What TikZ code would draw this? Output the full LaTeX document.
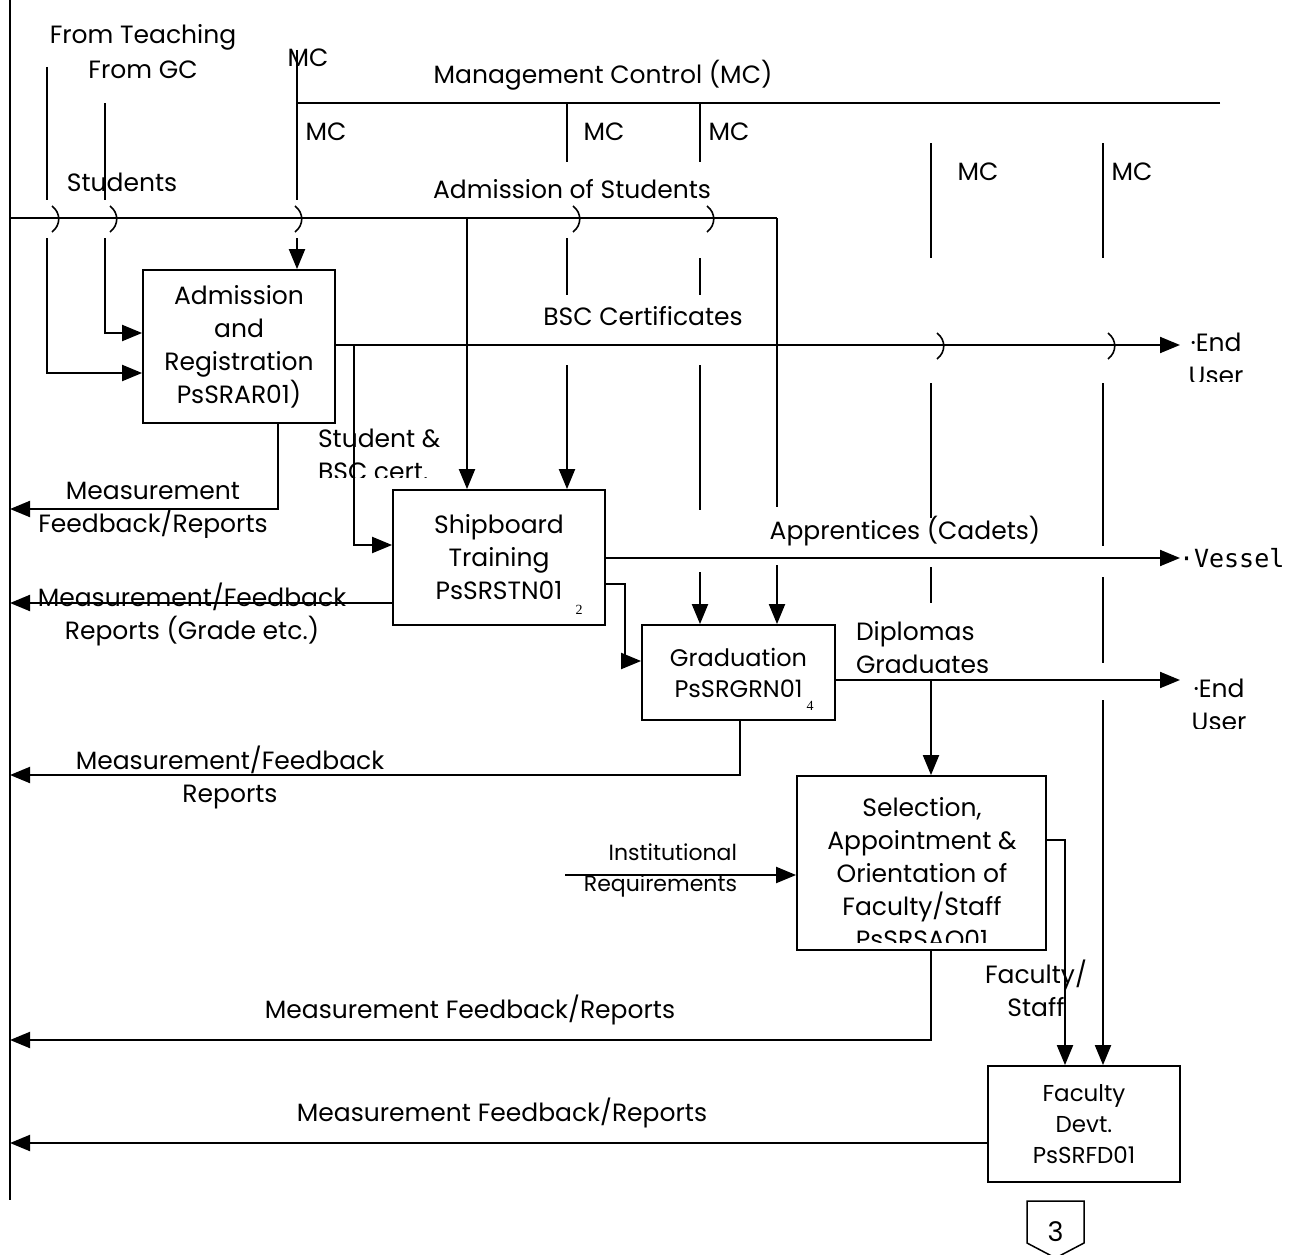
\documentclass[tikz,border=0pt]{standalone}
\usepackage{fontspec}
\setmainfont{Poppins}
\newfontfamily\numfont{Liberation Serif}
\newfontfamily\vesfont{DejaVu Sans Mono}
\usetikzlibrary{arrows.meta,positioning}

\tikzset{
  >={Triangle[length=20pt,width=16pt]},
  box/.style={draw, line width=1.8pt, align=center, inner sep=0pt,
    font=\fontsize{25}{33}\selectfont},
  lbl/.style={align=center, inner sep=0pt, font=\fontsize{25}{33}\selectfont},
  num/.style={inner sep=0pt, font=\numfont\fontsize{14}{14}\selectfont},
  tunnel/.pic={\draw[line width=1.6pt] (0,-13) .. controls (9,-6) and (9,6) .. (0,13);}
}

\begin{document}
\begin{tikzpicture}[x=1pt,y=-1pt,line width=2pt]
  \useasboundingbox (0,0) rectangle (1307,1255);

  % activity boxes
  \node[box, minimum width=192pt, minimum height=153pt] (ar) at (239,346.5) {Admission\\and\\Registration\\PsSRAR01)};
  \node[box, minimum width=212pt, minimum height=135pt] (st) at (499,557.5) {Shipboard\\Training\\PsSRSTN01};
  \node[box, minimum width=193pt, minimum height=95pt, font=\fontsize{24}{31}\selectfont] (gr) at (738.5,672.5) {Graduation\\PsSRGRN01};
  \node[box, minimum width=249pt, minimum height=174pt] (sa) at (921.5,863) {};
  \node[box, minimum width=192pt, minimum height=116pt, font=\fontsize{23}{31}\selectfont] (fd) at (1084,1124) {Faculty\\Devt.\\PsSRFD01};
  \begin{scope}
    \clip (sa.north west) rectangle ([yshift=8pt]sa.south east);
    \node[lbl] (satxt) at (922,873) {Selection,\\Appointment \&\\Orientation of\\Faculty/Staff\\PsSRSAO01};
  \end{scope}
  \node[num] (n2) at (579,610) {2};
  \node[num] (n4) at (810,706) {4};

  % free ends
  \coordinate (top) at (10,0);
  \coordinate (bot) at (10,1200);
  \coordinate (ftin) at (47,67);
  \coordinate (gcin) at (105,103);
  \coordinate (mcin) at (297,50);
  \coordinate (mcr) at (1220,103);
  \coordinate (mca) at (567,103);
  \coordinate (mcb) at (700,103);
  \coordinate (mcc) at (931,143);
  \coordinate (mcd) at (1103,143);
  \coordinate (stin) at (10,218);
  \coordinate (stj) at (777,218);
  \coordinate (eu1) at (1180,345);
  \coordinate (vs) at (1180,558);
  \coordinate (eu2) at (1180,680);
  \coordinate (inst) at (565,875);
  \coordinate (fb1) at (10,509);
  \coordinate (fb2) at (10,603);
  \coordinate (fb3) at (10,775);
  \coordinate (fb4) at (10,1040);
  \coordinate (fb5) at (10,1143);

  \draw (top) -- (bot);

  % inputs and controls
  \draw[->] (ftin) -- ++(0,133) ++(0,38) |- ([yshift=-26.5pt]ar.west);
  \draw[->] (gcin) -- ++(0,97) ++(0,38) |- ([yshift=13.5pt]ar.west);
  \draw[->] (mcin) -- ++(0,150) ++(0,38) -- (ar.north -| mcin);
  \draw (mcr) -- (mcr -| mcin);
  \draw[->] (mca) -- ++(0,59) ++(0,76) -- ++(0,57) ++(0,70) -- (st.north -| mca);
  \draw[->] (mcb) -- ++(0,59) ++(0,96) -- ++(0,37) ++(0,70) -- ++(0,145) ++(0,62) -- (gr.north -| mcb);
  \draw (mcc) -- ++(0,115) ++(0,125) -- ++(0,135) ++(0,49) -- ++(0,36);
  \draw[->] (mcd) -- ++(0,115) ++(0,125) -- ++(0,163) ++(0,31) -- ++(0,86) ++(0,37) -- (fd.north -| mcd);
  \draw (stin) -- (stj);
  \draw[->] (stj) -- ++(0,289) ++(0,58) -- (gr.north -| stj);
  \draw[<-] ([xshift=-32pt]st.north) -- ++(0,-272);
  \draw[->] (inst) -- (sa.west |- inst);

  \pic at (52,219) {tunnel};
  \pic at (110,219) {tunnel};
  \pic at (295,219) {tunnel};
  \pic at (573,219) {tunnel};
  \pic at (707,219) {tunnel};
  \pic at (937,346) {tunnel};
  \pic at (1108,346) {tunnel};

  % outputs
  \draw[->] ([yshift=1.5pt]ar.east) -- (eu1);
  \draw[->] ([xshift=18pt,yshift=1.5pt]ar.east) |- ([yshift=12.5pt]st.west);
  \draw[->] (st.east |- vs) -- (vs);
  \draw[->] ([yshift=-26pt]st.east) -- ++(19,0) |- ([yshift=11.5pt]gr.west);
  \draw[->] ([yshift=-7.5pt]gr.east) -- (eu2);
  \draw[<-] ([xshift=9.5pt]sa.north) -- ++(0,-96);
  \draw[->] ([yshift=23pt]sa.east) -| ([xshift=-19pt]fd.north);

  % feedback
  \draw[->] ([xshift=39pt]ar.south) |- (fb1);
  \draw[->] ([yshift=-45.5pt]st.west) -- (fb2);
  \draw[->] ([xshift=1.5pt]gr.south) |- (fb3);
  \draw[->] ([xshift=9.5pt]sa.south) |- (fb4);
  \draw[->] ([yshift=-19pt]fd.west) -- (fb5);

  % off-page connector
  \draw[line width=1.5pt] (1027,1201) -- (1084,1201) -- (1084,1243) -- (1055.5,1258) -- (1027,1243) -- cycle;
  \node[lbl, font=\fontsize{27}{33}\selectfont] (p3) at (1055.5,1232) {3};

  % labels
  \node[lbl] (ftch) at (143,37) {From Teaching};
  \node[lbl] (fgc) at (143,70) {From GC};
  \node[lbl] (mc0) at (308,58) {MC};
  \node[lbl] (mgmt) at (603,75) {Management Control (MC)};
  \node[lbl] (mc1) at (326,132) {MC};
  \node[lbl] (mc2) at (604,132) {MC};
  \node[lbl] (mc3) at (729,132) {MC};
  \node[lbl] (mc4) at (978,172) {MC};
  \node[lbl] (mc5) at (1132,172) {MC};
  \node[lbl] (stud) at (122,182) {Students};
  \node[lbl] (adst) at (572,189) {Admission of Students};
  \node[lbl] (bsc) at (643,316) {BSC Certificates};
  \node[lbl] (appr) at (905,531) {Apprentices (Cadets)};
  \node[lbl, anchor=west, font=\vesfont\fontsize{25}{25}\selectfont] (ves) at (1178,558) {·Vessel};
  \node[lbl] (mfr2) at (192,614) {Measurement/Feedback\\Reports (Grade etc.)};
  \node[lbl] (mfr3) at (230,777) {Measurement/Feedback\\Reports};
  \node[lbl, align=right, anchor=east, font=\fontsize{22}{31}\selectfont] (inst2) at (738,870) {Institutional\\Requirements};
  \node[lbl] (fs) at (1036,988) {Faculty/\\Staff};
  \node[lbl] (mfr4) at (470,1010) {Measurement Feedback/Reports};
  \node[lbl] (mfr5) at (502,1113) {Measurement Feedback/Reports};
  \begin{scope}
    \clip (20,470) rectangle (300,537);
    \node[lbl] (mfr1) at (153,511) {Measurement\\Feedback/Reports};
  \end{scope}
  \begin{scope}
    \clip (300,420) rectangle (460,477);
    \node[lbl, align=left, anchor=west] (sbsc) at (317,455) {Student \&\\BSC cert.};
  \end{scope}
  \begin{scope}
    \clip (840,610) rectangle (1010,672);
    \node[lbl, align=left, anchor=west] (dipl) at (855,648) {Diplomas\\Graduates};
  \end{scope}
  \begin{scope}
    \clip (1150,320) rectangle (1300,381);
    \node[lbl] (eut1) at (1216,359) {·End\\User};
  \end{scope}
  \begin{scope}
    \clip (1150,665) rectangle (1300,728);
    \node[lbl] (eut2) at (1219,705) {·End\\User};
  \end{scope}
\end{tikzpicture}
\end{document}
